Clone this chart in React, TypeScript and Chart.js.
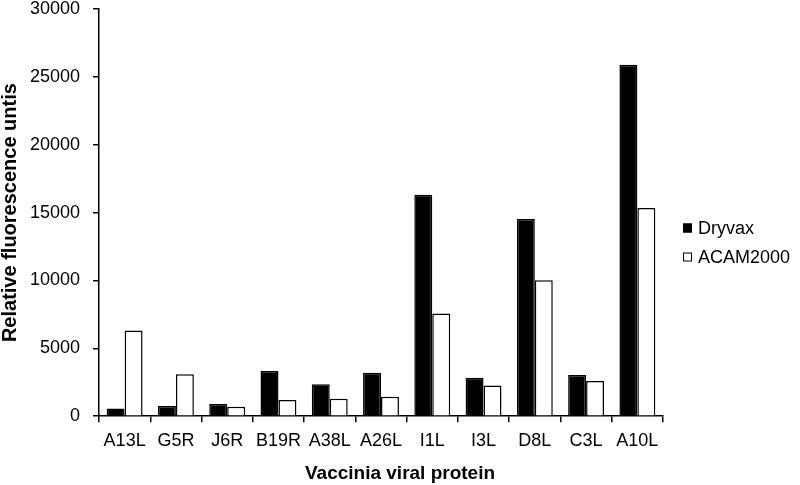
import React, { useEffect, useRef } from "react";
import { Chart, registerables } from "chart.js";

Chart.register(...registerables);

const categories = ["A13L", "G5R", "J6R", "B19R", "A38L", "A26L", "I1L", "I3L", "D8L", "C3L", "A10L"];
const dryvax = [570, 760, 890, 3330, 2350, 3210, 16310, 2840, 14520, 3040, 25900];
const acam2000 = [6320, 3090, 690, 1185, 1280, 1430, 7560, 2270, 10020, 2590, 15330];
const seriesNames = ["Dryvax", "ACAM2000"];
const yTicks = [0, 5000, 10000, 15000, 20000, 25000, 30000];
const xTitle = "Vaccinia viral protein";
const yTitle = "Relative fluorescence untis";

const FONT = "'Liberation Sans', Arial, Helvetica, sans-serif";

const legendPlugin = {
  id: "sideLegend",
  afterDraw(chart: any) {
    const ctx = chart.ctx;
    const ds = chart.data.datasets;
    const x0 = chart.chartArea.right + 20;
    const cy = chart.height / 2 - 14.5;
    ctx.save();
    ctx.font = `18px ${FONT}`;
    ctx.textBaseline = "middle";
    ctx.textAlign = "left";
    ds.forEach((d: any, i: number) => {
      const y = cy + i * 29;
      ctx.fillStyle = d.backgroundColor;
      ctx.fillRect(x0, y - 4.5, 9, 9);
      ctx.strokeStyle = "#000";
      ctx.lineWidth = 1;
      ctx.strokeRect(x0 + 0.5, y - 4, 8, 8);
      ctx.fillStyle = "#000";
      ctx.fillText(d.label, x0 + 15, y + 1);
    });
    ctx.restore();
  },
};

export default function App() {
  const ref = useRef<HTMLCanvasElement | null>(null);
  useEffect(() => {
    if (!ref.current) return;
    const chart = new Chart(ref.current, {
      type: "bar",
      data: {
        labels: categories,
        datasets: [
          {
            label: seriesNames[0],
            data: dryvax,
            backgroundColor: "#000000",
            borderColor: "#000000",
            borderWidth: 1.5,
          },
          {
            label: seriesNames[1],
            data: acam2000,
            backgroundColor: "#ffffff",
            borderColor: "#000000",
            borderWidth: 1.5,
          },
        ],
      },
      options: {
        responsive: false,
        animation: false,
        layout: { padding: { left: 0, right: 0, top: 9, bottom: 0 } },
        datasets: { bar: { categoryPercentage: 0.7, barPercentage: 1.0 } },
        plugins: {
          legend: { display: false },
          tooltip: { enabled: false },
          title: {
            display: true,
            position: "bottom",
            text: xTitle,
            color: "#000",
            font: { family: FONT, size: 19, weight: "bold", lineHeight: 1.2 },
            padding: { top: 1, bottom: 0 },
          },
        },
        scales: {
          x: {
            grid: {
              offset: true,
              drawOnChartArea: false,
              drawTicks: true,
              tickLength: 6,
              color: "#000",
              lineWidth: 1.5,
            },
            border: { display: true, color: "#000", width: 1.5 },
            ticks: {
              color: "#000",
              font: { family: FONT, size: 18 },
              padding: 8,
              maxRotation: 0,
              autoSkip: false,
            },
            afterFit: (scale: any) => {
              scale.height = 45;
              scale.paddingLeft = 0;
              scale.paddingRight = 0;
            },
          },
          y: {
            min: 0,
            max: 30000,
            afterBuildTicks: (scale: any) => {
              scale.ticks = yTicks.map((v) => ({ value: v }));
            },
            grid: {
              drawOnChartArea: false,
              drawTicks: true,
              tickLength: 6,
              color: "#000",
              lineWidth: 1.5,
            },
            border: { display: true, color: "#000", width: 1.5 },
            ticks: {
              color: "#000",
              font: { family: FONT, size: 18 },
              padding: 13,
              callback: (v: any) => String(v),
            },
            title: {
              display: true,
              text: yTitle,
              color: "#000",
              font: { family: FONT, size: 20, weight: "bold", lineHeight: 1.0 },
              padding: 0,
            },
            afterFit: (scale: any) => {
              scale.width = 99;
              scale.paddingTop = 0;
              scale.paddingBottom = 0;
            },
          },
          legendSpace: {
            type: "linear",
            position: "right",
            display: true,
            grid: { display: false },
            border: { display: false },
            ticks: { display: false },
            afterFit: (scale: any) => {
              scale.width = 137;
              scale.paddingTop = 0;
              scale.paddingBottom = 0;
            },
          },
        },
      },
      plugins: [legendPlugin],
    });
    return () => chart.destroy();
  }, []);
  return (
    <div style={{ position: "fixed", left: 0, top: 0, width: 800, height: 485, background: "#fff" }}>
      <canvas ref={ref} width={800} height={485} />
    </div>
  );
}
